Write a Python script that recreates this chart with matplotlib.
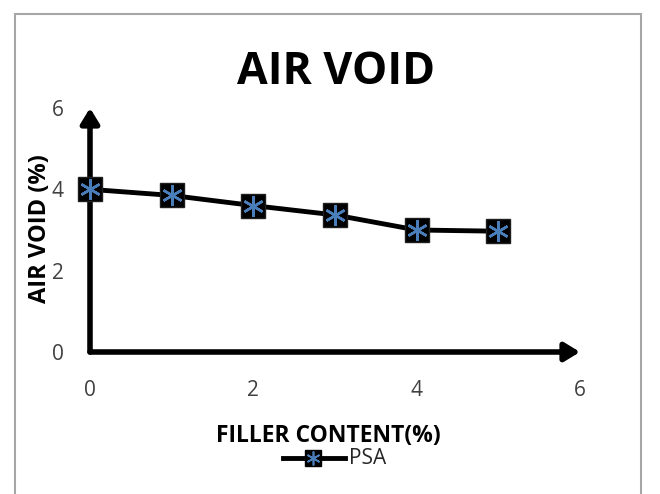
import matplotlib.pyplot as plt
from matplotlib.patches import Rectangle

filler = [0, 1, 2, 3, 4, 5]
air_void = [4.0, 3.85, 3.6, 3.37, 3.0, 2.97]
ticks = [0, 2, 4, 6]

plt.rcParams['font.family'] = ['Open Sans', 'DejaVu Sans']

fig = plt.figure(figsize=(6.6, 4.94), dpi=100)
fig.patches.append(Rectangle((15 / 660, -0.05), 626 / 660, 1 - 14 / 494 + 0.05,
                             transform=fig.transFigure, fill=False,
                             edgecolor='#a6a6a6', linewidth=1.5))

ax = fig.add_axes([90 / 660, 1 - 352 / 494, 490 / 660, 244 / 494])
ax.set_xlim(0, 6)
ax.set_ylim(0, 6)
for s in ax.spines.values():
    s.set_visible(False)

# axes with arrow heads
arrow = dict(arrowstyle='-|>,head_width=0.55,head_length=0.9', color='black',
             lw=4, shrinkA=0, shrinkB=0)
ax.annotate('', xy=(0, 1.0), xytext=(0, 0), xycoords='axes fraction',
            arrowprops=arrow, annotation_clip=False)
ax.annotate('', xy=(1.0, 0), xytext=(0, 0), xycoords='axes fraction',
            arrowprops=arrow, annotation_clip=False)

ax.plot(filler, air_void, color='black', lw=3.5, marker='s', markersize=17,
        markerfacecolor='black', markeredgecolor='#1f1f1f', zorder=5, clip_on=False)
ax.plot(filler, air_void, linestyle='none', marker=(6, 2, 0), markersize=15,
        markeredgecolor='#4a7ebb', markeredgewidth=1.8, zorder=6, clip_on=False)

ax.set_xticks(ticks)
ax.set_yticks(ticks)
ax.tick_params(length=0, labelsize=15, labelcolor='#404040')
ax.tick_params(axis='x', pad=20)
ax.tick_params(axis='y', pad=19)

fig.text(336 / 660, 1 - 73 / 494, 'AIR VOID', ha='center', va='center',
         fontsize=32, fontweight='bold')
fig.text(40 / 660, 1 - 229 / 494, 'AIR VOID (%)', ha='center', va='center',
         rotation=90, fontsize=17, fontweight='bold')
fig.text(328 / 660, 1 - 436 / 494, 'FILLER CONTENT(%)', ha='center', va='center',
         fontsize=16.5, fontweight='bold')

# legend
fig.lines.append(plt.Line2D([283 / 660, 345 / 660], [1 - 458 / 494] * 2,
                            transform=fig.transFigure, color='black', lw=3.5))
fig.lines.append(plt.Line2D([313 / 660], [1 - 458 / 494], transform=fig.transFigure,
                            marker='s', markersize=11, color='black'))
fig.lines.append(plt.Line2D([313 / 660], [1 - 458 / 494], transform=fig.transFigure,
                            marker=(6, 2, 0), markersize=10, color='#4a7ebb',
                            markeredgewidth=1.2))
fig.text(349 / 660, 1 - 458 / 494, 'PSA', ha='left', va='center',
         fontsize=15, color='#262626')

fig.savefig('out.png', dpi=100)
